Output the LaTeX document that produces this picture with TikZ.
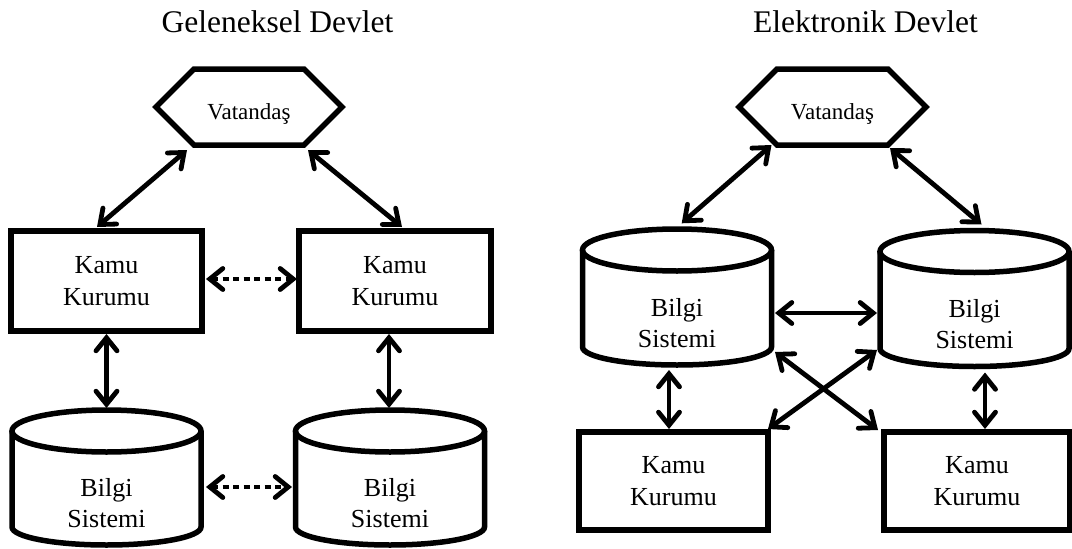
\documentclass[tikz,border=0pt]{standalone}
\usepackage{fontspec}
\setmainfont{Liberation Serif}
\usetikzlibrary{arrows.meta,calc}

% hexagonal outline around a plain rectangular node
\newcommand\hexframe[1]{%
  \draw[frame] (#1.west) -- ($(#1.north west)+(38,0)$) -- ($(#1.north east)+(-38,0)$)
    -- (#1.east) -- ($(#1.south east)+(-38,0)$) -- ($(#1.south west)+(38,0)$) -- cycle;}

% database cylinder outline around a plain rectangular node
\newcommand\dbframe[1]{%
  \draw[frame] ($(#1.north west)+(0,21)$) -- ($(#1.south west)+(0,-18)$)
    arc[start angle=180,end angle=360,x radius=94.5pt,y radius=18pt]
    -- ($(#1.north east)+(0,21)$);
  \draw[frame] ($(#1.north)+(0,21)$) ellipse[x radius=94.5pt,y radius=21pt];}

\begin{document}
\begin{tikzpicture}[x=1pt,y=-1pt,
  every node/.style={inner sep=0pt,outer sep=0pt},
  heading/.style={font=\fontsize{31.5}{36}\selectfont,anchor=base},
  frame/.style={line width=5.5pt,line join=miter},
  unit/.style={draw,frame,rectangle,minimum width=#1,minimum height=100pt,
    align=center,font=\fontsize{26}{32}\selectfont},
  citizen/.style={rectangle,minimum width=#1,minimum height=76pt,
    label={[font=\fontsize{23}{27}\selectfont,yshift=-6.5pt]center:Vatanda\c{s}}},
  store/.style={rectangle,minimum width=189pt,minimum height=#1,
    label={[align=center,font=\fontsize{26}{31}\selectfont,yshift=-26pt]center:Bilgi\\Sistemi}},
  link/.style={line width=4.8pt,line cap=round,
    {Straight Barb[length=13pt,width=21pt,line cap=round]}-{Straight Barb[length=13pt,width=21pt,line cap=round]}},
  weak/.style={link,line cap=butt,dash pattern=on 6pt off 4.5pt},
]
\path[use as bounding box,fill=white] (0,0) rectangle (1072,549);

% ---- traditional government ----
\node[heading] (tL) at (277.5,32) {Geleneksel Devlet};
\node[citizen=186pt] (vL) at (249,107) {};
\hexframe{vL}
\node[unit=191pt] (kL1) at (106.5,281) {Kamu\\Kurumu};
\node[unit=192pt] (kL2) at (395,281) {Kamu\\Kurumu};
\node[store=135pt] (bL1) at (106.5,477.5) {};
\node[store=135pt] (bL2) at (390,477.5) {};
\dbframe{bL1}
\dbframe{bL2}

\draw[link] ($(vL.south)+(-62,5)$) -- ($(kL1.north)+(-9.5,-4)$);
\draw[link] ($(vL.south)+(59,5)$) -- ($(kL2.north)+(7,-4)$);
\draw[weak] ($(kL1.east)+(4,-2)$) -- ($(kL2.west)+(-2,-2)$);
\draw[link] ($(bL1.north |- kL1.south)+(0,3)$) -- ($(bL1.north)+(0,-2)$);
\draw[link] ($(bL2.north |- kL2.south)+(-1,3)$) -- ($(bL2.north)+(-1,-2)$);
\draw[weak] ($(bL1.east)+(5,9.5)$) -- ($(bL2.west)+(-3.5,9.5)$);

% ---- electronic government ----
\node[heading] (tR) at (865.5,32) {Elektronik Devlet};
\node[citizen=187pt] (vR) at (832.5,107) {};
\hexframe{vR}
\node[store=136pt] (bR1) at (677,297) {};
\node[store=136pt] (bR2) at (974.5,298.5) {};
\dbframe{bR1}
\dbframe{bR2}
\node[unit=189pt,minimum height=98pt] (kR1) at (673.5,481) {Kamu\\Kurumu};
\node[unit=186pt,minimum height=98pt] (kR2) at (977,481) {Kamu\\Kurumu};

\draw[link] ($(vR.south)+(-61,0)$) -- ($(bR1.north)+(4.7,-5.7)$);
\draw[link] ($(vR.south)+(57.5,3)$) -- ($(bR2.north)+(7,-6)$);
\draw[link] ($(bR1.east)+(3.5,16)$) -- ($(bR2.west)+(-3,14.5)$);
\draw[link] ($(bR1.south)+(-8,5)$) -- ($(kR1.north)+(-4.5,-3)$);
\draw[link] ($(bR2.south)+(10.5,6)$) -- ($(kR2.north)+(8,-3)$);
\draw[link] ($(bR1.center)+(98,55)$) -- ($(kR2.north west)+(-6,-2)$);
\draw[link] ($(bR2.center)+(-97.5,51.5)$) -- ($(kR1.north east)+(0,-3)$);
\end{tikzpicture}
\end{document}
